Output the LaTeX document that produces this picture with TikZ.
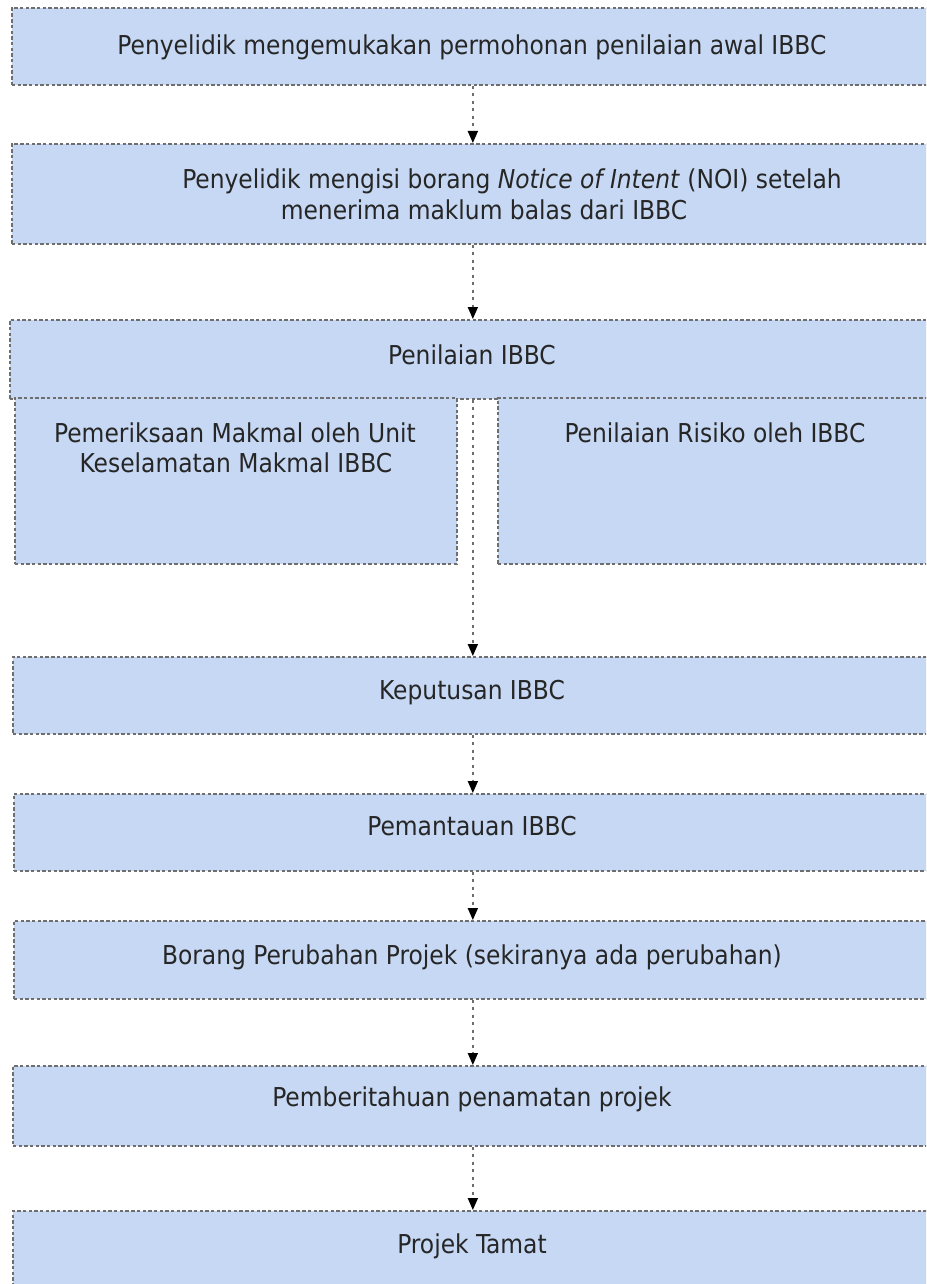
\documentclass[tikz,border=0pt]{standalone}
\usepackage{fontspec}
\setmainfont{DejaVu Sans Condensed}
\usetikzlibrary{arrows.meta}
\definecolor{boxblue}{RGB}{198,216,243}
\definecolor{edgegray}{RGB}{110,110,110}
\begin{document}
\begin{tikzpicture}[x=1pt,y=-1pt,
  box/.style={draw=edgegray, fill=boxblue, line width=1.7pt, dash pattern=on 3.4pt off 2.3pt, rectangle, inner sep=0pt, anchor=north west},
  lbl/.style={font=\fontsize{26}{30}\selectfont, text=black!85, inner sep=0pt, anchor=base},
  arr/.style={draw=edgegray, line width=1.7pt, dash pattern=on 3pt off 4.5pt, -{Triangle[width=10pt,length=12pt,color=black]}}]
\useasboundingbox (0,0) rectangle (926,1284);
\clip (0,0) rectangle (926,1284);
% boxes
\node[box, minimum width=922pt, minimum height=77pt] (b1) at (11,7) {};
\node[box, minimum width=922pt, minimum height=100pt] (b2) at (11,143) {};
\node[box, minimum width=926pt, minimum height=79pt] (b3) at (9,319) {};
\node[box, minimum width=442pt, minimum height=166pt] (b3l) at (14,397) {};
\node[box, minimum width=440pt, minimum height=166pt] (b3r) at (497,397) {};
\node[box, minimum width=920pt, minimum height=77pt] (b4) at (12,656) {};
\node[box, minimum width=918pt, minimum height=77pt] (b5) at (13,793) {};
\node[box, minimum width=918pt, minimum height=78pt] (b6) at (13,920) {};
\node[box, minimum width=920pt, minimum height=80pt] (b7) at (12,1065) {};
\node[box, minimum width=920pt, minimum height=100pt] (b8) at (12,1210) {};
% texts
\node[lbl] (t1) at (472,55) {Penyelidik mengemukakan permohonan penilaian awal IBBC};
\node[lbl] (t2a) at (512,189) {Penyelidik mengisi borang \textit{Notice of Intent} (NOI) setelah};
\node[lbl] (t2b) at (484,219) {menerima maklum balas dari IBBC};
\node[lbl] (t3) at (472,364) {Penilaian IBBC};
\node[lbl] (t3la) at (235,442) {Pemeriksaan Makmal oleh Unit};
\node[lbl] (t3lb) at (236,472) {Keselamatan Makmal IBBC};
\node[lbl] (t3r) at (715,442) {Penilaian Risiko oleh IBBC};
\node[lbl] (t4) at (472,699) {Keputusan IBBC};
\node[lbl] (t5) at (472,835) {Pemantauan IBBC};
\node[lbl] (t6) at (472,964) {Borang Perubahan Projek (sekiranya ada perubahan)};
\node[lbl] (t7) at (472,1106) {Pemberitahuan penamatan projek};
\node[lbl] (t8) at (472,1253) {Projek Tamat};
% arrows
\draw[arr] (b1.south) -- (b2.north);
\draw[arr] (b2.south) -- (b3.north);
\draw[arr] (b3.south) -- (b4.north);
\draw[arr] (b4.south) -- (b5.north);
\draw[arr] (b5.south) -- (b6.north);
\draw[arr] (b6.south) -- (b7.north);
\draw[arr] (b7.south) -- (b8.north);
\end{tikzpicture}
\end{document}
